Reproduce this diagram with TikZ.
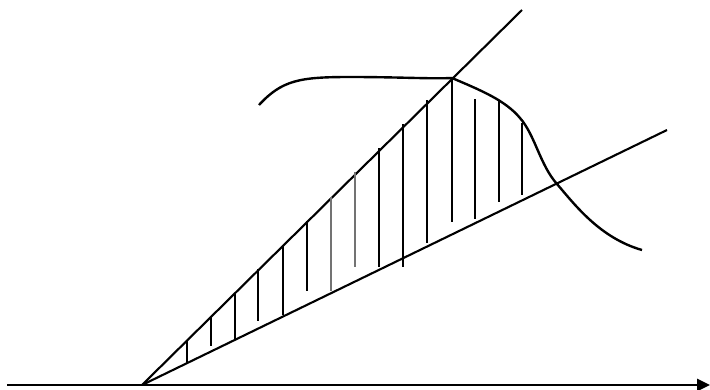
\documentclass[tikz,border=0pt]{standalone}
\usepackage{tikz}
\usetikzlibrary{arrows.meta}
\tikzset{
  axis/.style={line width=1.5pt, draw=black, -{Triangle[length=0.32cm,width=0.3cm]}},
  ray/.style={line width=1.5pt, draw=black},
  curve/.style={line width=1.7pt, draw=black, line join=round},
  hatch/.style={line width=1.3pt, draw=black},
  hatchgray/.style={line width=1.3pt, draw=black!55},
}
\begin{document}
\begin{tikzpicture}[x=0.025cm, y=-0.025cm]

  \useasboundingbox (0,0) rectangle (710,389);

  \coordinate (ax0) at (7,385);
  \coordinate (ax1) at (710,385);
  \coordinate (O)   at (142,385);
  \coordinate (up)  at (522,10);
  \coordinate (lo)  at (667,130);
  \coordinate (pk)  at (452,78);
  \coordinate (cr)  at (557,184);

  \draw[axis] (ax0) -- (ax1);
  \draw[ray]  (O) -- (up);
  \draw[ray]  (O) -- (lo);

  \draw[curve] (259,105) .. controls (282,80) and (300,77) .. (350,77)
                         .. controls (400,77) and (430,79) .. (pk)
                         .. controls (480,90) and (505,100) .. (520,118)
                         .. controls (535,135) and (540,165) .. (cr)
                         .. controls (575,205) and (600,238) .. (642,250);

  \foreach \x/\t/\b in {186.7/341/363, 210.7/317/346, 235/293/340,
                        258.3/269/321, 282.7/245/315, 306.7/221/291,
                        379/148/267, 403/124/267, 427/100/243,
                        452/78/222, 475/99/219, 499/100/202, 522/123/195}
    \draw[hatch] (\x,\t) -- (\x,\b);

  \foreach \x/\t/\b in {330.7/197/291, 355/172/267}
    \draw[hatchgray] (\x,\t) -- (\x,\b);

\end{tikzpicture}
\end{document}
